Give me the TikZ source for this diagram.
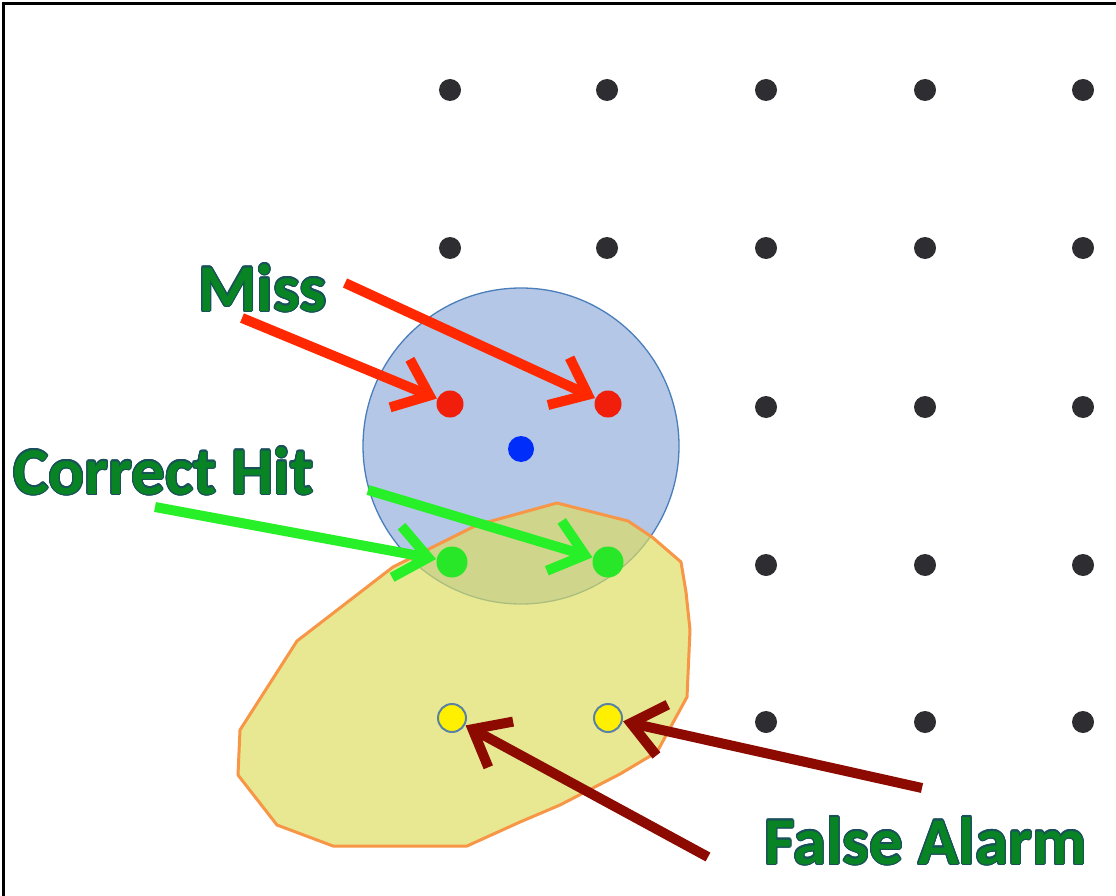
\documentclass[tikz,border=0pt]{standalone}
\usepackage{fontspec}
\setmainfont{Carlito}
\usepackage{contour}
\contourlength{1.1pt}
\usetikzlibrary{arrows.meta}
\definecolor{lblgreen}{RGB}{8,132,36}
\definecolor{lblrim}{RGB}{25,80,90}
\definecolor{dotblack}{RGB}{45,45,50}
\definecolor{dotred}{RGB}{240,30,10}
\definecolor{dotblue}{RGB}{0,45,250}
\definecolor{dotgreen}{RGB}{40,230,40}
\definecolor{dotyellow}{RGB}{255,240,0}
\definecolor{dotrim}{RGB}{90,130,165}
\definecolor{zonefill}{RGB}{180,199,231}
\definecolor{zoneedge}{RGB}{74,126,187}
\definecolor{blobfill}{RGB}{221,222,95}
\definecolor{blobedge}{RGB}{247,150,70}
\definecolor{arrred}{RGB}{255,40,0}
\definecolor{arrgreen}{RGB}{40,240,40}
\definecolor{arrdark}{RGB}{140,10,0}
\begin{document}
\begin{tikzpicture}[x=1pt,y=-1pt,
  blackdot/.style={circle,fill=dotblack,inner sep=0pt,minimum size=22pt},
  reddot/.style={circle,fill=dotred,inner sep=0pt,minimum size=27pt},
  bluedot/.style={circle,fill=dotblue,inner sep=0pt,minimum size=26pt},
  greendot/.style={circle,fill=dotgreen,inner sep=0pt,minimum size=31pt},
  yellowdot/.style={circle,fill=dotyellow,draw=dotrim,line width=2pt,inner sep=0pt,minimum size=28pt},
  pointer/.style={line width=10pt,shorten >=0.5pt,-{Straight Barb[length=32pt,width=52pt,line width=10pt]}},
  label/.style={text=lblgreen,font=\fontsize{67}{72}\selectfont\bfseries,inner sep=0pt,anchor=base west}]
\useasboundingbox (0,0) rectangle (1116,896);
\fill[white] (0,0) rectangle (1116,896);
\draw[line width=3pt] (3,896) -- (3,3.5) -- (1116,3.5);
% blue zone
\node[circle,fill=zonefill,draw=zoneedge,line width=1.3pt,inner sep=0pt,minimum size=316pt] (zone) at (521,446) {};
% yellow blob
\filldraw[fill=blobfill,fill opacity=0.67,draw=blobedge,line width=3pt,line join=round]
  (557,503) -- (628,521) -- (652,537) -- (681,562) -- (686,592) -- (690,630) -- (687,697)
  -- (657,752) -- (620,774) -- (560,805) -- (520,822) -- (467,846) -- (333,846) -- (277,825)
  -- (238,775) -- (240,730) -- (297,641) -- (393,567) -- (477,525) -- cycle;
% grid dots
\foreach \c/\x in {1/450,2/607,3/766,4/925,5/1083}
  \foreach \r/\y in {1/90,2/248}
    \node[blackdot] (d\r\c) at (\x,\y) {};
\foreach \c/\x in {3/766,4/925,5/1083}
  \foreach \r/\y in {3/407,4/565,5/722}
    \node[blackdot] (d\r\c) at (\x,\y) {};
\node[reddot] (m1) at (450,404) {};
\node[reddot] (m2) at (608,404) {};
\node[bluedot] (bc) at (521,449) {};
\node[greendot] (h1) at (452,562) {};
\node[greendot] (h2) at (608,562) {};
\node[yellowdot] (f1) at (452,718) {};
\node[yellowdot] (f2) at (608,718) {};
% labels
\node[label] (miss) at (198,311) {\contour{lblrim}{Miss}};
\node[label] (hit) at (13,494) {\contour{lblrim}{Correct Hit}};
\node[label] (fa) at (764,864) {\contour{lblrim}{False Alarm}};
% arrows
\coordinate (ms1) at (242,318);
\coordinate (ms2) at (345,283);
\coordinate (hs1) at (155,507);
\coordinate (hs2) at (368,490);
\coordinate (fs1) at (708,857);
\coordinate (fs2) at (922,788);
\draw[pointer,arrred] (ms1) -- (m1);
\draw[pointer,arrred] (ms2) -- (m2);
\draw[pointer,arrgreen] (hs1) -- (h1);
\draw[pointer,arrgreen] (hs2) -- (h2);
\draw[pointer,arrdark] (fs1) -- (f1);
\draw[pointer,arrdark] (fs2) -- (f2);
\end{tikzpicture}
\end{document}
